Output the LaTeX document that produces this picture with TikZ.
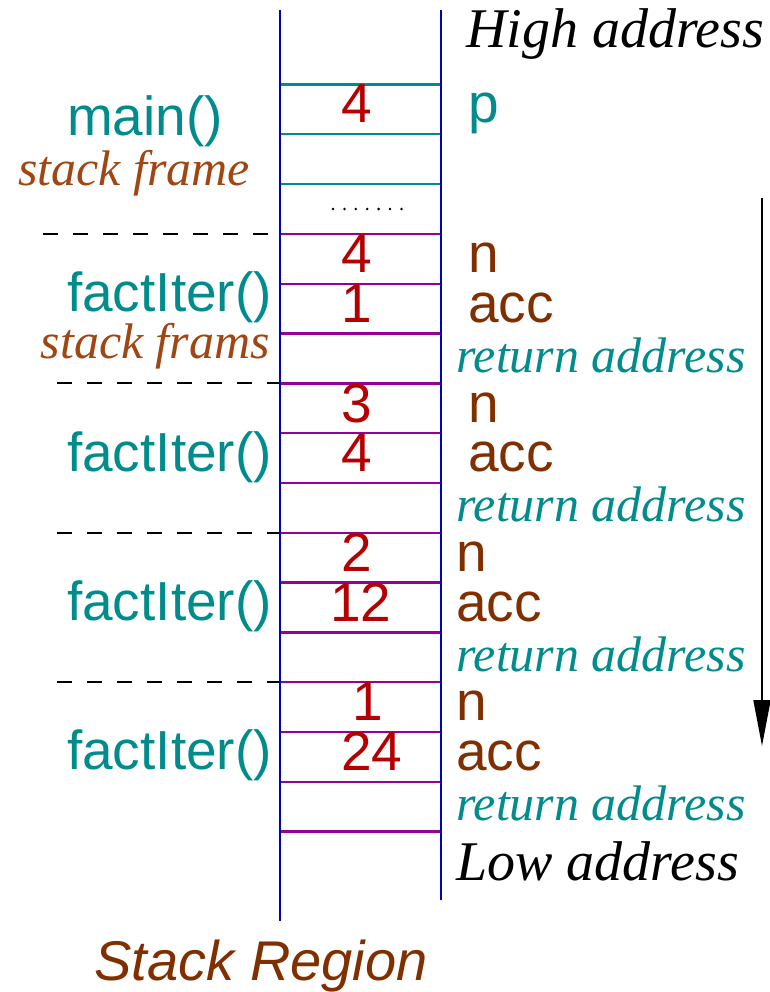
\documentclass[tikz,border=0pt]{standalone}
\usepackage{fontspec}
\setmainfont{Liberation Serif}
\setsansfont{Liberation Sans}
\usetikzlibrary{arrows.meta}
\definecolor{tealc}{RGB}{0,140,140}
\definecolor{redc}{RGB}{180,0,0}
\definecolor{brownc}{RGB}{128,48,0}
\definecolor{orangebr}{RGB}{160,70,20}
\definecolor{bluec}{RGB}{0,0,190}
\definecolor{purplec}{RGB}{150,0,150}
\begin{document}
\begin{tikzpicture}[x=1pt,y=-1pt,
  sans/.style={font=\fontsize{55}{60}\selectfont\sffamily, inner sep=0pt},
  serifit/.style={font=\fontsize{50}{56}\selectfont\itshape, inner sep=0pt},
  serifbig/.style={font=\fontsize{56}{60}\selectfont\itshape, inner sep=0pt},
  digit/.style={sans, text=redc, anchor=base},
  varlbl/.style={sans, text=brownc, anchor=base west},
  funclbl/.style={sans, text=tealc, anchor=base east},
  retlbl/.style={serifit, text=tealc, anchor=base west},
  wall/.style={bluec, line width=2.4pt},
  tealline/.style={tealc, line width=2.4pt},
  purpline/.style={purplec, line width=2.4pt},
  framesep/.style={black, line width=2pt, dash pattern=on 15pt off 15pt}
]
\useasboundingbox (0,0) rectangle (769,992);

% walls
\coordinate (lt) at (280,10); \coordinate (lb) at (280,921);
\coordinate (rt) at (441,10); \coordinate (rb) at (441,900);
\draw[wall] (lt) -- (lb);
\draw[wall] (rt) -- (rb);

% horizontal cell lines
\foreach \k in {0,1,2}{
  \draw[tealline] (281,{84.5+49.8*\k}) -- (440,{84.5+49.8*\k});
}
\foreach \k in {3,...,15}{
  \draw[purpline] (281,{84.5+49.8*\k}) -- (440,{84.5+49.8*\k});
}

% frame separators
\coordinate (s1a) at (43,233.9); \coordinate (s1b) at (270,233.9);
\draw[framesep] (s1a) -- (s1b);
\foreach \k in {6,9,12}{
  \draw[framesep] (57,{84.5+49.8*\k}) -- (279,{84.5+49.8*\k});
}

% dots
\foreach \i in {0,...,6}{
  \fill ({333+11.4*\i},209) circle (1.4);
}

% arrow
\coordinate (arrA) at (762,198); \coordinate (arrB) at (762,746);
\draw[line width=1.8pt, -{Triangle[length=46pt,width=17pt]}] (arrA) -- (arrB);

% top / bottom labels
\node[serifbig, anchor=base west] (high) at (466,48) {High address};
\node[serifbig, anchor=base west] (low) at (456,880) {Low address};
\node[sans, font=\fontsize{56}{60}\selectfont\sffamily\itshape, text=brownc, anchor=base] (region) at (261,980) {Stack Region};

% main frame
\node[digit] (m4) at (357,123) {4};
\node[sans, text=tealc, anchor=base west] (p) at (468,123) {p};
\node[sans, text=tealc, anchor=base] (mainf) at (145,136) {main()};
\node[serifit, text=orangebr, anchor=base] (msf) at (134,186) {stack frame};

% frame 1
\node[digit] (f1n) at (357,272.5) {4};
\node[digit] (f1a) at (357,322.3) {1};
\node[varlbl] (f1nl) at (468,272.5) {n};
\node[varlbl] (f1al) at (468,322.3) {acc};
\node[retlbl] (f1r) at (456,372) {return address};
\node[funclbl] (f1f) at (272,311) {factIter()};
\node[serifit, text=orangebr, anchor=base east] (f1s) at (270,358) {stack frams};

% frame 2
\node[digit] (f2n) at (357,422) {3};
\node[digit] (f2a) at (357,471.8) {4};
\node[varlbl] (f2nl) at (468,422) {n};
\node[varlbl] (f2al) at (468,471.8) {acc};
\node[retlbl] (f2r) at (456,521.5) {return address};
\node[funclbl] (f2f) at (272,471) {factIter()};

% frame 3
\node[digit] (f3n) at (357,571.3) {2};
\node[digit] (f3a) at (361,621.1) {12};
\node[varlbl] (f3nl) at (456,571.3) {n};
\node[varlbl] (f3al) at (456,621.1) {acc};
\node[retlbl] (f3r) at (456,671) {return address};
\node[funclbl] (f3f) at (272,620) {factIter()};

% frame 4
\node[digit] (f4n) at (368,720.7) {1};
\node[digit] (f4a) at (372,770.5) {24};
\node[varlbl] (f4nl) at (456,720.7) {n};
\node[varlbl] (f4al) at (456,770.5) {acc};
\node[retlbl] (f4r) at (456,820.3) {return address};
\node[funclbl] (f4f) at (272,769) {factIter()};
\end{tikzpicture}
\end{document}
